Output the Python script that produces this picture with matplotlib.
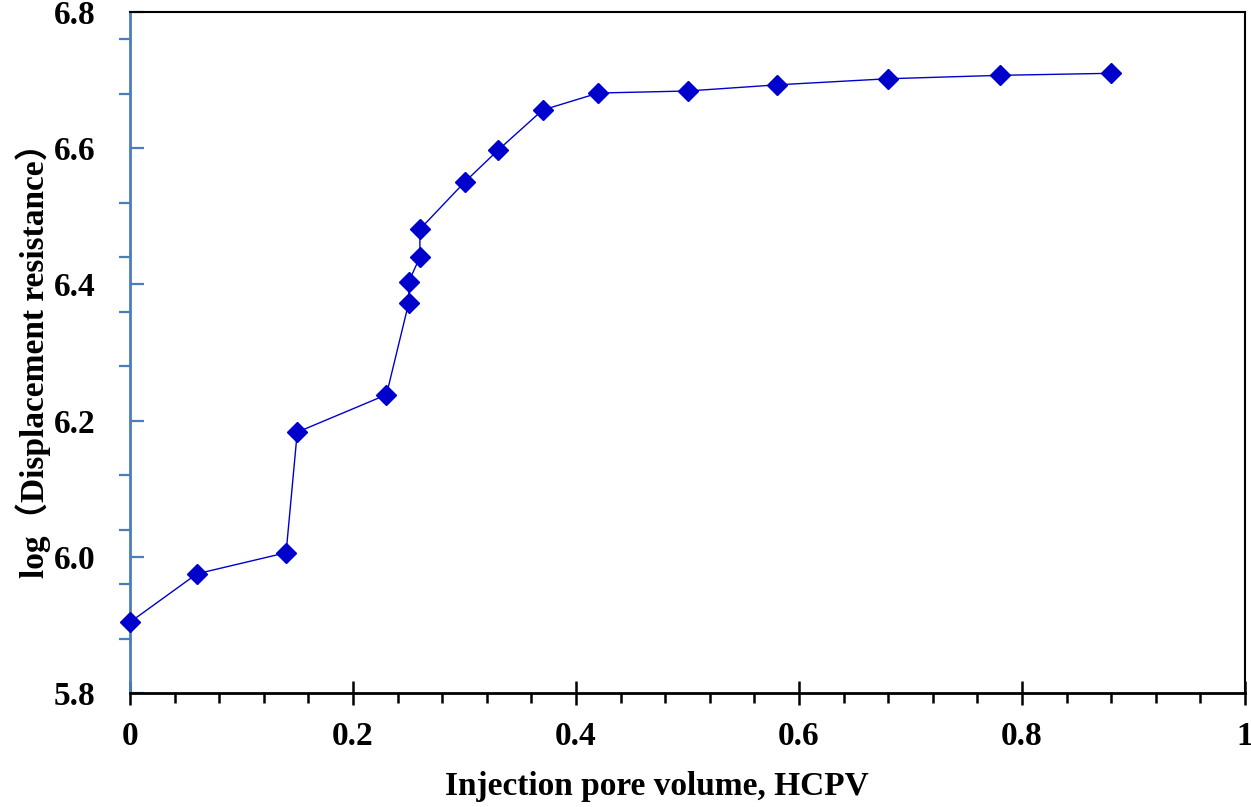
"""Displacement resistance versus injected pore volume."""

from matplotlib.ticker import FixedLocator, MultipleLocator
import matplotlib.pyplot as plt
import numpy as np

# Injection pore volume, HCPV
pore_volume = [0.00, 0.06, 0.14, 0.15, 0.23, 0.25, 0.25, 0.26, 0.26, 0.30,
               0.33, 0.37, 0.42, 0.50, 0.58, 0.68, 0.78, 0.88]
# log(displacement resistance)
log_resistance = [5.904, 5.975, 6.006, 6.183, 6.238, 6.373, 6.404, 6.440, 6.481,
                  6.550, 6.597, 6.656, 6.681, 6.684, 6.693, 6.702, 6.707, 6.710]

x_ticks = [0, 0.2, 0.4, 0.6, 0.8, 1]
x_ticklabels = ["0", "0.2", "0.4", "0.6", "0.8", "1"]
y_ticks = [5.8, 6.0, 6.2, 6.4, 6.6, 6.8]

plt.rcParams["font.family"] = ["Liberation Serif", "Noto Sans CJK SC"]
plt.rcParams["font.weight"] = "bold"

fig = plt.figure(figsize=(12.51, 8.07), dpi=100)
ax = fig.add_axes([130 / 1251, 1 - 693 / 807, 1115 / 1251, 681 / 807])

ax.plot(pore_volume, log_resistance, color="#0000CC", linewidth=1.0,
        marker="D", markersize=10.5, markerfacecolor="#0000CC",
        markeredgecolor="#0000CC", zorder=3, clip_on=False)

ax.set_xlim(0, 1)
ax.set_ylim(5.8, 6.8)

# x axis: major ticks crossing, minor ticks outside every 0.04
ax.set_xticks(x_ticks)
ax.set_xticklabels(x_ticklabels)
ax.xaxis.set_minor_locator(MultipleLocator(0.04))
ax.tick_params(axis="x", which="major", direction="inout", length=17, width=1.8,
               pad=12, labelsize=24, colors="black")
ax.tick_params(axis="x", which="minor", direction="out", length=7, width=1.8,
               colors="black")

# y axis: major ticks inside, minor ticks outside every 0.08
ax.set_yticks(y_ticks)
ax.set_yticklabels([f"{v:.1f}" for v in y_ticks])
ax.yaxis.set_minor_locator(FixedLocator(np.arange(5.8, 6.81, 0.08)))
ax.tick_params(axis="y", which="major", direction="in", length=10, width=1.6,
               pad=25, labelsize=24, color="#4A7EBB", labelcolor="black")
ax.tick_params(axis="y", which="minor", direction="out", length=8, width=1.6,
               color="#4A7EBB")

ax.spines["left"].set_color("#4A7EBB")
ax.spines["left"].set_linewidth(2.0)
ax.spines["bottom"].set_linewidth(2.0)
ax.spines["top"].set_linewidth(1.5)
ax.spines["right"].set_linewidth(1.5)

ax.set_xlabel("Injection pore volume, HCPV", fontsize=24, fontweight="bold")
ax.xaxis.set_label_coords(0.4726, -0.114, transform=ax.transAxes)
ax.xaxis.label.set_verticalalignment("top")
ax.set_ylabel("log（Displacement resistance）", fontsize=24, fontweight="bold",
              labelpad=2)

fig.savefig("out.png", dpi=100)
plt.close(fig)
